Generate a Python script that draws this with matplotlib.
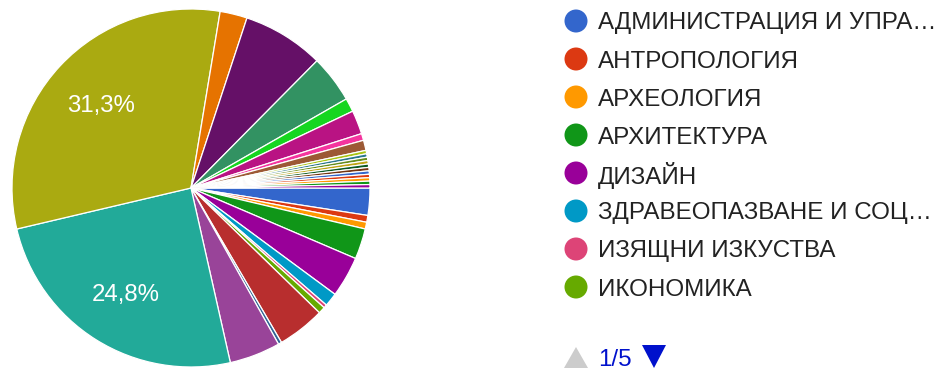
import matplotlib.pyplot as plt
from matplotlib.patches import Circle, Polygon

plt.rcParams['font.family'] = ['Liberation Sans', 'DejaVu Sans']

# responses per field, in form order (36 answer options, 5 legend pages)
counts = [8, 2, 2, 9, 12, 4, 1, 2, 14, 1, 15, 81, 102, 0, 8, 0, 24, 14,
          0, 0, 0, 4, 7, 2, 3, 1, 1, 1, 1, 1, 1, 1, 1, 1, 1, 1]

# first legend page
legend_labels = ['АДМИНИСТРАЦИЯ И УПРА…', 'АНТРОПОЛОГИЯ', 'АРХЕОЛОГИЯ',
                 'АРХИТЕКТУРА', 'ДИЗАЙН', 'ЗДРАВЕОПАЗВАНЕ И СОЦ…',
                 'ИЗЯЩНИ ИЗКУСТВА', 'ИКОНОМИКА']
page, pages = 1, 5

palette = ['#3366cc', '#dc3912', '#ff9900', '#109618', '#990099', '#0099c6',
           '#dd4477', '#66aa00', '#b82e2e', '#316395', '#994499', '#22aa99',
           '#aaaa11', '#6633cc', '#e67300', '#8b0707', '#651067', '#329262',
           '#5574a6', '#3b3eac', '#b77322', '#16d620', '#b91383', '#f4359e',
           '#9c5935', '#a9c413', '#2a778d', '#668d1c', '#bea413', '#0c5922',
           '#743411']
colors = [palette[i % len(palette)] for i in range(len(counts))]

# zero answers take no room in the pie
vals = [c for c in counts if c > 0]
cols = [colors[i] for i, c in enumerate(counts) if c > 0]

W, H = 936, 370
fig = plt.figure(figsize=(W / 100, H / 100), dpi=100)

cx, cy, r = 191, 188, 179
ax = fig.add_axes([(cx - r) / W, (H - cy - r) / H, 2 * r / W, 2 * r / H])


def pct_label(p):
    return f'{p:.1f}%'.replace('.', ',') if p > 10 else ''


wedges, texts, autotexts = ax.pie(
    vals, colors=cols, startangle=0, counterclock=False,
    autopct=pct_label, pctdistance=0.69,
    wedgeprops=dict(edgecolor='white', linewidth=0.9),
    textprops=dict(color='white', fontsize=17.3))
for t in autotexts:
    t.set_va('center_baseline')
ax.set_xlim(-1, 1)
ax.set_ylim(-1, 1)
ax.set_aspect('equal')

# legend and pager drawn in pixel coordinates
lg = fig.add_axes([0, 0, 1, 1])
lg.set_xlim(0, W)
lg.set_ylim(H, 0)
lg.axis('off')

x0, y0, step = 576, 21, 38
for i, lab in enumerate(legend_labels):
    y = y0 + i * step
    lg.add_patch(Circle((x0, y), 11.5, color=colors[i], lw=0))
    lg.text(x0 + 22, y, lab, fontsize=17.4, color='#222222',
            va='center_baseline', ha='left')

py = 357
lg.add_patch(Polygon([(x0 - 12, py + 11), (x0 + 12, py + 11), (x0, py - 10)],
                     closed=True, color='#cccccc', lw=0))
lg.text(x0 + 22, py, f'{page}/{pages}', fontsize=17.4, color='#0011cc',
        va='center_baseline', ha='left')
lg.add_patch(Polygon([(642, py - 12), (666, py - 12), (654, py + 11)],
                     closed=True, color='#0011cc', lw=0))

fig.savefig('out.png', dpi=100)
